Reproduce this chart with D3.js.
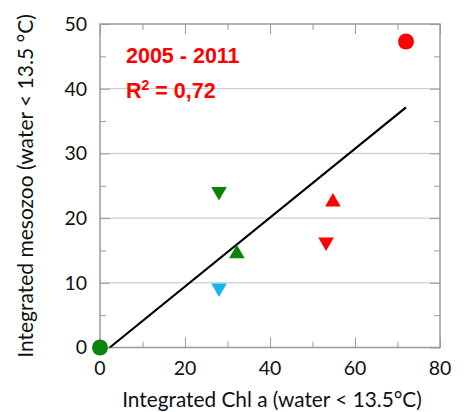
<!DOCTYPE html>
<html>
<head>
<meta charset="utf-8">
<script src="https://cdn.jsdelivr.net/npm/d3@7"></script>
<style>
  body { margin: 0; background: #fff; }
  svg { display: block; }
</style>
</head>
<body>
<div id="chart"></div>
<script>
// data
const pointX = [0, 72, 28, 28, 32.2, 53.2, 54.8];
const pointY = [0, 47.3, 24.1, 9.2, 14.5, 16.3, 22.5];
const pointGroup = ["g-circle", "r-circle", "g-down", "c-down", "g-up", "r-down", "r-up"];
const fitX = [2.3, 72];
const fitY = [0, 37.1];
const xTicks = [0, 20, 40, 60, 80];
const yTicks = [0, 10, 20, 30, 40, 50];
const yearLabel = "2005 - 2011";
const r2Label = "0,72";

const markerStyle = {
  "g-circle": { shape: "circle", fill: "#0a840a" },
  "r-circle": { shape: "circle", fill: "#ff0000" },
  "g-down":   { shape: "down",   fill: "#0a840a" },
  "c-down":   { shape: "down",   fill: "#19b4f0" },
  "g-up":     { shape: "up",     fill: "#0a840a" },
  "r-down":   { shape: "down",   fill: "#ff0000" },
  "r-up":     { shape: "up",     fill: "#ff0000" }
};

const width = 464, height = 412;
const margin = { top: 24, right: 24, bottom: 64.5, left: 100 };
const innerW = width - margin.left - margin.right;
const innerH = height - margin.top - margin.bottom;

const svg = d3.select("#chart").append("svg")
  .attr("width", width)
  .attr("height", height);

const g = svg.append("g")
  .attr("transform", `translate(${margin.left},${margin.top})`);

const x = d3.scaleLinear().domain([0, 80]).range([0, innerW]);
const y = d3.scaleLinear().domain([0, 50]).range([innerH, 0]);

// gridlines
g.append("g").attr("class", "grid")
  .selectAll("line")
  .data(yTicks.filter(d => d > 0 && d < 50))
  .enter().append("line")
  .attr("x1", 0).attr("x2", innerW)
  .attr("y1", d => y(d)).attr("y2", d => y(d))
  .attr("stroke", "#c4c4c4")
  .attr("stroke-width", 1);

// inward ticks on all four sides
const frameColour = "#9a9a9a";
const xMinor = d3.range(10, 80, 20);
const yMinor = d3.range(5, 50, 10);

function tickSide(axisGen, transform) {
  g.append("g").attr("transform", transform).call(axisGen)
    .call(s => s.select(".domain").remove())
    .call(s => s.selectAll("line").attr("stroke", frameColour))
    .call(s => s.selectAll("text").remove());
}
tickSide(d3.axisBottom(x).tickValues(xTicks).tickSize(-10), `translate(0,${innerH})`);
tickSide(d3.axisBottom(x).tickValues(xMinor).tickSize(-6), `translate(0,${innerH})`);
tickSide(d3.axisTop(x).tickValues(xTicks).tickSize(-10), "translate(0,0)");
tickSide(d3.axisTop(x).tickValues(xMinor).tickSize(-6), "translate(0,0)");
tickSide(d3.axisRight(y).tickValues(yTicks).tickSize(-10), `translate(${innerW},0)`);
tickSide(d3.axisRight(y).tickValues(yMinor).tickSize(-6), `translate(${innerW},0)`);
tickSide(d3.axisLeft(y).tickValues(yTicks).tickSize(-10), "translate(0,0)");
tickSide(d3.axisLeft(y).tickValues(yMinor).tickSize(-6), "translate(0,0)");

// frame
g.append("rect")
  .attr("x", 0).attr("y", 0)
  .attr("width", innerW).attr("height", innerH)
  .attr("fill", "none")
  .attr("stroke", frameColour)
  .attr("stroke-width", 1.5);

// tick labels
const tickFont = "Lato, 'Open Sans', sans-serif";
g.append("g").selectAll("text")
  .data(xTicks).enter().append("text")
  .attr("x", d => x(d))
  .attr("y", innerH + 27)
  .attr("text-anchor", "middle")
  .attr("font-family", tickFont)
  .attr("font-size", 19.5)
  .attr("fill", "#111")
  .text(d => d);

g.append("g").selectAll("text")
  .data(yTicks).enter().append("text")
  .attr("x", -13)
  .attr("y", d => y(d))
  .attr("dy", "0.35em")
  .attr("text-anchor", "end")
  .attr("font-family", tickFont)
  .attr("font-size", 19.5)
  .attr("fill", "#111")
  .text(d => d);

// axis titles
svg.append("text")
  .attr("x", margin.left + innerW / 2 + 2)
  .attr("y", 407)
  .attr("text-anchor", "middle")
  .attr("font-family", tickFont)
  .attr("font-size", 20.8)
  .attr("fill", "#111")
  .text("Integrated Chl a (water < 13.5°C)");

svg.append("text")
  .attr("transform", "translate(33,186) rotate(-90)")
  .attr("text-anchor", "middle")
  .attr("font-family", tickFont)
  .attr("font-size", 21)
  .attr("fill", "#111")
  .text("Integrated mesozoo (water < 13.5 °C)");

// regression line
const line = d3.line().x(d => x(d[0])).y(d => y(d[1]));
g.append("path")
  .datum(d3.zip(fitX, fitY))
  .attr("d", line)
  .attr("fill", "none")
  .attr("stroke", "#000")
  .attr("stroke-width", 2.2);

// markers
const points = pointX.map((v, i) => ({ x: v, y: pointY[i], group: pointGroup[i] }));
const tri = d3.symbol(d3.symbolTriangle, 105);

const marks = g.append("g").selectAll(".mark")
  .data(points).enter();

marks.filter(d => markerStyle[d.group].shape === "circle")
  .append("circle")
  .attr("cx", d => x(d.x))
  .attr("cy", d => y(d.y))
  .attr("r", 8)
  .attr("fill", d => markerStyle[d.group].fill);

marks.filter(d => markerStyle[d.group].shape !== "circle")
  .append("path")
  .attr("d", tri)
  .attr("transform", d => `translate(${x(d.x)},${y(d.y)})` +
    (markerStyle[d.group].shape === "down" ? " rotate(180)" : ""))
  .attr("fill", d => markerStyle[d.group].fill);

// annotation
const noteFont = "'Liberation Sans', Arial, sans-serif";
svg.append("text")
  .attr("x", 126).attr("y", 63)
  .attr("font-family", noteFont)
  .attr("font-weight", "bold")
  .attr("font-size", 21.5)
  .attr("fill", "#ff0000")
  .text(yearLabel);

const r2 = svg.append("text")
  .attr("x", 126).attr("y", 98)
  .attr("font-family", noteFont)
  .attr("font-weight", "bold")
  .attr("font-size", 21.5)
  .attr("fill", "#ff0000");
r2.append("tspan").text("R");
r2.append("tspan").attr("font-size", 14).attr("dy", -8).text("2");
r2.append("tspan").attr("dy", 8).text(" = " + r2Label);
</script>
</body>
</html>
